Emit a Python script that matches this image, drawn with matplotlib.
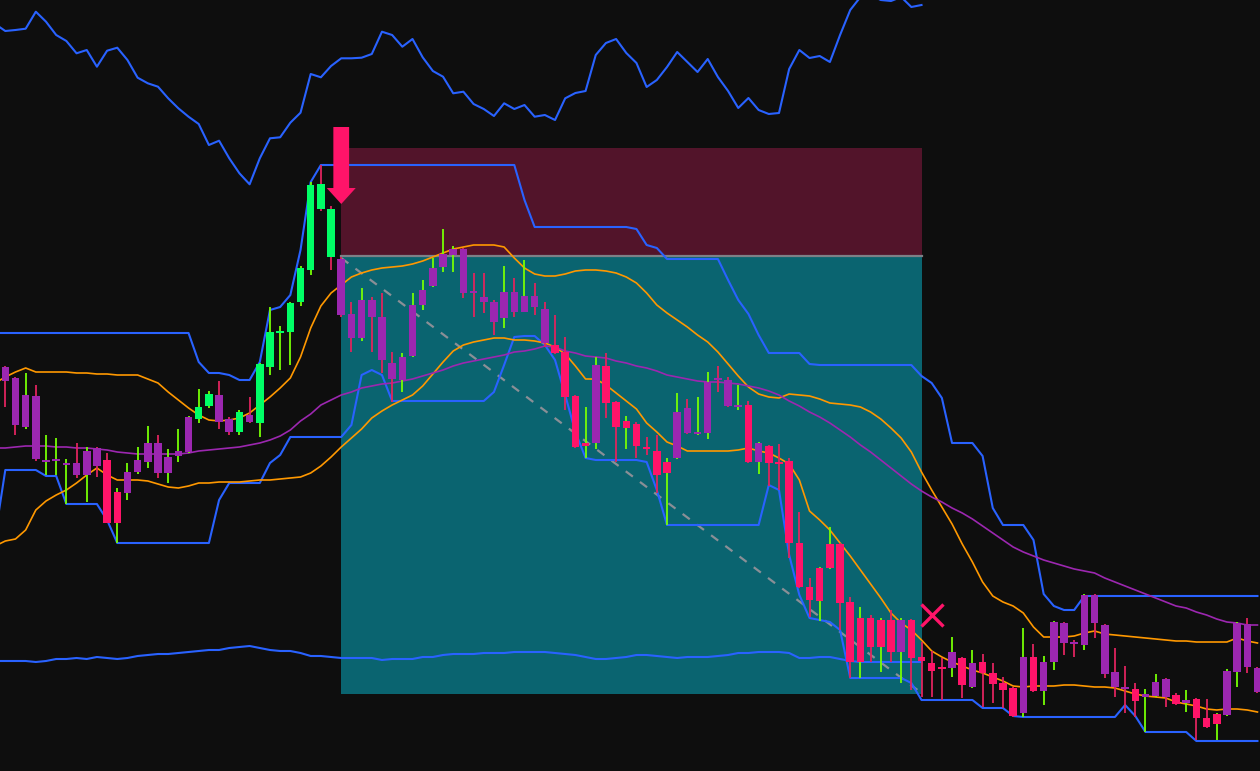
import matplotlib
matplotlib.use("Agg")
import matplotlib.pyplot as plt
from matplotlib.patches import Rectangle, FancyArrow
import numpy as np

# levels are read off the screenshot, measured downward from the chart top
# (the y axis is inverted below, so smaller numbers sit higher)

opens = [367, 378, 427, 396, 462, 461, 465, 463, 475, 448,
         460, 523, 493, 472, 462, 443, 473, 456, 452, 419,
         406, 395, 419, 432, 415, 423, 367, 333, 332, 302,
         270, 184, 209, 259, 314, 338, 300, 317, 363, 380,
         356, 305, 286, 267, 255, 249, 291, 297, 302, 318,
         292, 312, 296, 309, 345, 352, 396, 446, 443, 366,
         402, 428, 424, 447, 451, 473, 458, 408, 434, 433,
         378, 380, 407, 405, 462, 446, 462, 461, 543, 587,
         601, 568, 544, 602, 662, 618, 647, 620, 652, 620,
         657, 663, 667, 668, 658, 687, 662, 673, 683, 688,
         713, 657, 691, 662, 623, 642, 645, 595, 625, 672,
         687, 689, 697, 696, 679, 695, 703, 699, 718, 724,
         715, 672, 624, 668]
closes = [381, 425, 395, 459, 460, 459, 463, 475, 451, 466,
          523, 492, 472, 460, 443, 473, 457, 451, 417, 407,
          394, 422, 432, 412, 422, 364, 332, 331, 303, 268,
          185, 209, 257, 315, 338, 300, 317, 360, 379, 357,
          305, 290, 268, 254, 249, 293, 293, 302, 322, 292,
          312, 296, 307, 343, 353, 397, 447, 443, 365, 403,
          427, 421, 446, 449, 475, 462, 412, 433, 432, 382,
          380, 406, 405, 462, 443, 463, 464, 543, 587, 600,
          568, 544, 603, 662, 618, 647, 620, 652, 620, 658,
          661, 671, 669, 652, 685, 663, 673, 684, 690, 716,
          657, 691, 662, 622, 643, 644, 595, 623, 674, 687,
          689, 701, 694, 682, 697, 704, 700, 718, 727, 714,
          671, 623, 667, 692]
highs = [366, 377, 373, 385, 435, 438, 459, 443, 447, 447,
         453, 488, 463, 447, 426, 435, 449, 429, 416, 389,
         391, 381, 417, 410, 397, 363, 307, 326, 302, 266,
         182, 165, 206, 257, 302, 288, 297, 293, 352, 353,
         293, 280, 258, 229, 246, 248, 273, 273, 300, 266,
         278, 260, 283, 302, 315, 337, 395, 407, 357, 353,
         401, 416, 422, 437, 435, 458, 393, 399, 397, 372,
         366, 377, 385, 401, 442, 445, 444, 458, 512, 578,
         567, 527, 543, 597, 607, 615, 618, 610, 618, 619,
         642, 651, 658, 637, 657, 650, 654, 663, 677, 687,
         628, 644, 656, 621, 622, 640, 594, 594, 624, 648,
         666, 683, 689, 674, 678, 693, 690, 698, 699, 713,
         669, 622, 618, 667]
lows = [407, 435, 429, 461, 475, 475, 504, 478, 502, 477,
        523, 543, 500, 474, 468, 478, 483, 462, 453, 423,
        408, 429, 435, 435, 423, 437, 375, 370, 365, 306,
        275, 211, 270, 317, 352, 341, 352, 373, 402, 392,
        357, 310, 287, 272, 272, 298, 317, 313, 335, 328,
        317, 312, 315, 347, 354, 410, 448, 458, 449, 418,
        462, 449, 458, 455, 493, 525, 459, 434, 435, 439,
        392, 407, 410, 463, 474, 486, 490, 558, 588, 617,
        621, 569, 630, 678, 678, 662, 672, 662, 683, 690,
        697, 697, 700, 677, 698, 688, 707, 703, 708, 717,
        717, 692, 705, 670, 655, 657, 650, 638, 678, 697,
        713, 717, 732, 697, 707, 705, 712, 740, 728, 740,
        716, 687, 673, 693]
# body colour state per bar: G trend up, M trend down, P neutral
states = ("PPPPPPPPPP" "MM" "PPPPPPP" "GG" "PP" "G" "P" "GGGGGGGG"
          "PPPPPPPPPPPPPPPPPPPPP" "MMMM" "P" "MMMMMMM" "PPPPPPP" "M" "P"
          "MMMMMMMMMMMMM" "P" "MMMM" "P" "M" "P" "MMMM" "P" "M"
          "PPPPPPPPP" "M" "PPP" "M" "P" "MMM" "PPPP")

# overlay lines, first value belongs to the bar just left of the frame
band_up = [383, 377, 372, 368, 372, 372, 372, 372, 373, 373,
           374, 374, 375, 375, 375, 379, 383, 392, 400, 408,
           415, 420, 421, 420, 418, 413, 405, 397, 388, 378,
           357, 328, 306, 293, 285, 277, 273, 270, 268, 267,
           266, 264, 261, 257, 253, 249, 247, 245, 245, 245,
           247, 258, 268, 274, 276, 276, 274, 271, 270, 270,
           271, 273, 277, 283, 293, 305, 313, 320, 327, 335,
           342, 352, 364, 376, 387, 394, 397, 398, 394, 395,
           396, 399, 403, 404, 405, 407, 412, 419, 428, 438,
           452, 472, 490, 507, 524, 544, 562, 582, 596, 602,
           606, 613, 627, 637, 637, 637, 636, 633, 631, 634,
           635, 636, 637, 638, 639, 640, 641, 641, 642, 642,
           642, 642, 638, 641, 643]
band_lo = [546, 541, 539, 530, 510, 501, 495, 490, 483, 475,
           468, 475, 480, 480, 480, 481, 484, 487, 488, 486,
           483, 483, 482, 482, 482, 481, 480, 480, 479, 478,
           477, 473, 466, 457, 447, 438, 429, 418, 411, 405,
           400, 395, 386, 374, 362, 351, 345, 342, 340, 338,
           338, 340, 340, 341, 343, 347, 354, 366, 379, 379,
           385, 393, 401, 409, 423, 432, 442, 446, 451, 451,
           451, 451, 451, 450, 448, 451, 453, 458, 464, 480,
           511, 520, 530, 543, 556, 570, 584, 598, 613, 623,
           630, 640, 651, 657, 662, 666, 670, 673, 677, 681,
           686, 687, 686, 686, 686, 685, 685, 686, 687, 687,
           688, 691, 694, 696, 697, 698, 702, 704, 706, 709,
           710, 709, 709, 710, 712]
slow_ma = [448, 448, 447, 446, 446, 446, 447, 447, 448, 448,
           449, 450, 452, 453, 454, 454, 454, 454, 454, 453,
           451, 450, 449, 448, 447, 445, 443, 440, 436, 430,
           421, 414, 405, 400, 395, 392, 388, 386, 384, 383,
           381, 379, 376, 373, 370, 366, 363, 361, 359, 357,
           355, 352, 351, 349, 346, 347, 351, 353, 356, 357,
           358, 361, 363, 366, 368, 371, 375, 377, 379, 381,
           382, 382, 383, 384, 386, 388, 391, 395, 401, 406,
           412, 417, 423, 430, 437, 445, 452, 460, 468, 476,
           484, 491, 497, 502, 508, 513, 519, 526, 533, 540,
           547, 552, 556, 560, 563, 566, 569, 571, 573, 578,
           582, 586, 590, 594, 598, 602, 606, 608, 612, 615,
           619, 622, 623, 625, 625]
chan_up = [333, 333, 333, 333, 333, 333, 333, 333, 333, 333,
           333, 333, 333, 333, 333, 333, 333, 333, 333, 333,
           362, 373, 373, 375, 380, 380, 362, 310, 307, 295,
           250, 182, 165, 165, 165, 165, 165, 165, 165, 165,
           165, 165, 165, 165, 165, 165, 165, 165, 165, 165,
           165, 165, 200, 227, 227, 227, 227, 227, 227, 227,
           227, 227, 227, 229, 245, 248, 259, 259, 259, 259,
           259, 259, 280, 300, 314, 335, 353, 353, 353, 353,
           364, 365, 365, 365, 365, 365, 365, 365, 365, 365,
           365, 376, 383, 398, 443, 443, 443, 456, 508, 525,
           525, 525, 540, 594, 606, 610, 610, 596, 596, 596,
           596, 596, 596, 596, 596, 596, 596, 596, 596, 596,
           596, 596, 596, 596, 596]
chan_lo = [536, 470, 470, 470, 470, 476, 476, 504, 504, 504,
           504, 520, 543, 543, 543, 543, 543, 543, 543, 543,
           543, 543, 500, 483, 483, 483, 483, 463, 455, 437,
           437, 437, 437, 437, 437, 425, 375, 370, 375, 401,
           401, 401, 401, 401, 401, 401, 401, 401, 401, 392,
           365, 337, 336, 336, 345, 360, 395, 432, 458, 460,
           460, 460, 460, 460, 462, 490, 525, 525, 525, 525,
           525, 525, 525, 525, 525, 525, 485, 490, 555, 595,
           618, 620, 622, 630, 678, 678, 678, 678, 678, 678,
           683, 700, 700, 700, 700, 700, 700, 708, 708, 708,
           716, 717, 717, 717, 717, 717, 717, 717, 717, 717,
           717, 705, 716, 732, 732, 732, 732, 732, 741, 741,
           741, 741, 741, 741, 741]
# the two extra series stop at the trade exit bar
osc_top = [24, 31, 30, 28.7, 11.7, 21.7, 35, 41, 53.3, 50,
           66.7, 50.7, 47.7, 60, 77.7, 83.3, 86.7, 98.3, 108.3, 116.7,
           124, 145, 140.7, 158.3, 173.3, 184.3, 158.3, 138.3, 137.3, 122.7,
           112.7, 74, 77.3, 66, 58.3, 58.3, 57.7, 54, 31.7, 35,
           46.7, 39, 57.3, 71, 76.7, 93.3, 91.7, 104, 109, 116,
           103.3, 109, 105, 116.7, 115, 120, 98.3, 93, 91, 55,
           43, 39, 53, 63, 87, 80, 67, 52, 62, 72,
           59, 77, 91, 108, 98, 110, 114, 113, 69, 50,
           58, 56, 62, 35, 10, -3, -5, 0, 1, -3,
           7, 5]
osc_bot = [661, 661, 661, 661, 662, 661, 659, 659, 658, 659,
           657, 658, 659, 658, 656, 655, 654, 654, 653, 652,
           651, 650, 650, 648, 647, 646, 648, 650, 651, 651,
           653, 656, 656, 657, 658, 658, 658, 658, 660, 659,
           659, 659, 657, 657, 655, 654, 654, 654, 653, 653,
           653, 652, 652, 652, 652, 653, 654, 655, 657, 659,
           659, 658, 657, 655, 655, 656, 657, 658, 657, 657,
           657, 656, 655, 653, 653, 652, 652, 652, 653, 658,
           658, 657, 657, 659, 661, 662, 662, 662, 662, 662,
           662, 662]

# short trade
entry_bar, exit_bar = 33, 90
entry_lvl, stop_lvl, target_lvl = 256, 148, 694
trade_start, trade_end = 258, 693
cross_bar, cross_lvl = 91, 615

BG = "#0e0e0e"
BODY = {"G": "#00ff66", "M": "#ff1469", "P": "#9c27b0"}
WICK_UP, WICK_DN = "#76ff03", "#e0245e"
BLUE, ORANGE, PURPLE, PINK = "#2962ff", "#ff9800", "#9c27b0", "#ff1469"

n = len(opens)
idx = np.arange(n)
xl = np.arange(-1, n)
xo = np.arange(-1, len(osc_top) - 1)

fig = plt.figure(figsize=(12.6, 7.71), dpi=100, facecolor=BG)
ax = fig.add_axes([0, 0, 1, 1])
ax.set_facecolor(BG)
ax.set_xlim(-0.52, 123.25)
ax.set_ylim(771, 0)
ax.axis("off")

# trade box
ax.add_patch(Rectangle((entry_bar, stop_lvl), exit_bar - entry_bar, entry_lvl - stop_lvl,
                       facecolor="#52142a", edgecolor="none", zorder=1))
ax.add_patch(Rectangle((entry_bar, entry_lvl), exit_bar - entry_bar, target_lvl - entry_lvl,
                       facecolor="#0a6470", edgecolor="none", zorder=1))
ax.plot([entry_bar, exit_bar], [entry_lvl, entry_lvl], color="#7d8087", lw=1.6, zorder=1.5)
ax.plot([entry_bar, exit_bar], [trade_start, trade_end], color="#8a8f96", lw=1.6,
        ls=(0, (4, 4)), zorder=1.5)

# indicator lines
ax.plot(xo, osc_top, color=BLUE, lw=1.5, zorder=2)
ax.plot(xo, osc_bot, color=BLUE, lw=1.5, zorder=2)
ax.plot(xl, chan_up, color=BLUE, lw=1.5, zorder=2)
ax.plot(xl, chan_lo, color=BLUE, lw=1.5, zorder=2)
ax.plot(xl, band_up, color=ORANGE, lw=1.2, zorder=2)
ax.plot(xl, band_lo, color=ORANGE, lw=1.2, zorder=2)
ax.plot(xl, slow_ma, color=PURPLE, lw=1.2, zorder=2)

# candles
o = np.array(opens, float)
c = np.array(closes, float)
up = c < o  # inverted scale: a rising bar closes at a smaller level
wick_cols = [WICK_UP if u else WICK_DN for u in up]
body_cols = [BODY[s] for s in states]
ax.vlines(idx, highs, lows, colors=wick_cols, lw=1.3, zorder=3)
top = np.minimum(o, c)
h = np.maximum(np.abs(o - c), 2.2)
ax.bar(idx, h, bottom=top, width=0.74, color=body_cols, linewidth=0, zorder=4)

# entry arrow and exit cross
ax.add_patch(FancyArrow(entry_bar, 127, 0, 77, width=1.55, head_width=2.85, head_length=16,
                        length_includes_head=True, color=PINK, lw=0, zorder=5))
ax.plot(cross_bar, cross_lvl, marker="x", ms=16, mew=2.4, color=PINK, zorder=5)

fig.savefig("out.png", dpi=100, facecolor=BG)
